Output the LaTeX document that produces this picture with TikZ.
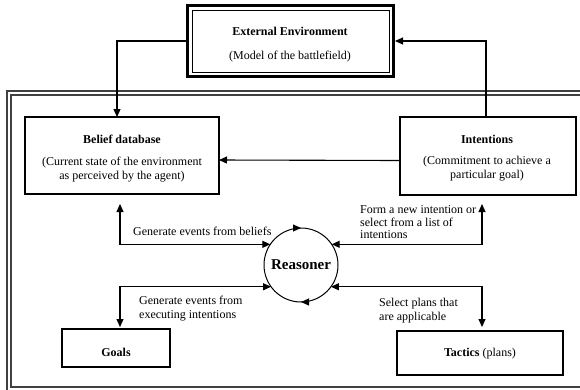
\documentclass[tikz,border=0pt]{standalone}
\usepackage{fontspec}
\setmainfont{Liberation Serif}
\usetikzlibrary{arrows.meta,decorations.markings}
\begin{document}
\begin{tikzpicture}[x=1pt,y=1pt,
  box/.style={draw, line width=1.6pt, outer sep=0pt, inner sep=0pt},
  txt/.style={font=\fontsize{12}{14}\selectfont, align=center, inner sep=0pt},
  lbl/.style={font=\fontsize{12}{14}\selectfont, align=left, anchor=west, inner sep=0pt},
  tip/.tip={Triangle[length=8pt,width=7pt]},
  arr/.style={line width=1.1pt, -tip},
  darr/.style={line width=1.1pt, tip-tip},
  frameline/.style={line width=1.2pt, black!75},
]
\useasboundingbox (0,0) rectangle (580,-389);
\clip (0,0) rectangle (580,-389);
\fill[white] (0,0) rectangle (580,-389);

% outer double frame
\draw[frameline] (7,-91) rectangle (640,-440);
\draw[frameline] (11,-95) rectangle (640,-387);

% boxes
\node[box, line width=3pt, minimum width=206, minimum height=71] (ext) at (290.5,-41) {};
\draw[line width=0.8pt] ([shift={(4.5,-4.5)}]ext.north west) rectangle ([shift={(-4.5,4.5)}]ext.south east);
\node[box, minimum width=194, minimum height=77] (belief) at (122,-155.5) {};
\node[box, minimum width=176, minimum height=78] (intent) at (488,-156) {};
\node[box, minimum width=108, minimum height=38] (goals) at (116,-348) {};
\node[box, minimum width=166, minimum height=44] (tactics) at (480,-353) {};

% reasoner
\node[circle, minimum size=74, inner sep=0pt, outer sep=0pt,
      font=\bfseries\fontsize{15}{18}\selectfont] (reasoner) at (301,-265) {Reasoner};
\draw[line width=1pt, postaction={decorate},
      decoration={markings,
        mark=at position 0.25 with {\arrowreversed{tip}},
        mark=at position 0.75 with {\arrowreversed{tip}}}]
      (reasoner.center) circle[radius=37];

% box texts
\node[txt] (exttxt) at (290,-45) {\textbf{External Environment}\\[10pt](Model of the battlefield)};
\node[txt] (belieftxt) at (122,-159) {\textbf{Belief database}\\[8pt](Current state of the environment\\as perceived by the agent)};
\node[txt] (intenttxt) at (487,-158.5) {\textbf{Intentions}\\[7pt](Commitment to achieve a\\particular goal)};
\node[txt] (goalstxt) at (116,-352) {\textbf{Goals}};
\node[txt] (tacticstxt) at (480,-354) {\textbf{Tactics} (plans)};

% connectors
\draw[arr] (ext.west) -| ([xshift=-5pt]belief.north);
\draw[arr, shorten >=1.5pt] ([xshift=-2pt]intent.north) |- (ext.east);
\draw[arr] ([yshift=-4.5pt]intent.west) -- ([yshift=-4.5pt]belief.east);
\draw[darr] ([xshift=-2pt,yshift=-10pt]belief.south) |- (reasoner.146);
\draw[darr] ([xshift=-6pt,yshift=-9pt]intent.south) |- (reasoner.34);
\draw[darr] (reasoner.216) -| ([xshift=4pt,yshift=2pt]goals.north);
\draw[darr] (reasoner.324) -| ([xshift=2pt,yshift=4pt]tactics.north);

% connector labels
\node[lbl] (l1) at (133,-231) {Generate events from beliefs};
\node[lbl, font=\fontsize{12}{12.5}\selectfont] (l2) at (360,-222.5) {Form a new intention or\\select from a list of\\intentions};
\node[lbl] (l3) at (139,-309) {Generate events from\\executing intentions};
\node[lbl] (l4) at (379,-311) {Select plans that\\are applicable};
\end{tikzpicture}
\end{document}
